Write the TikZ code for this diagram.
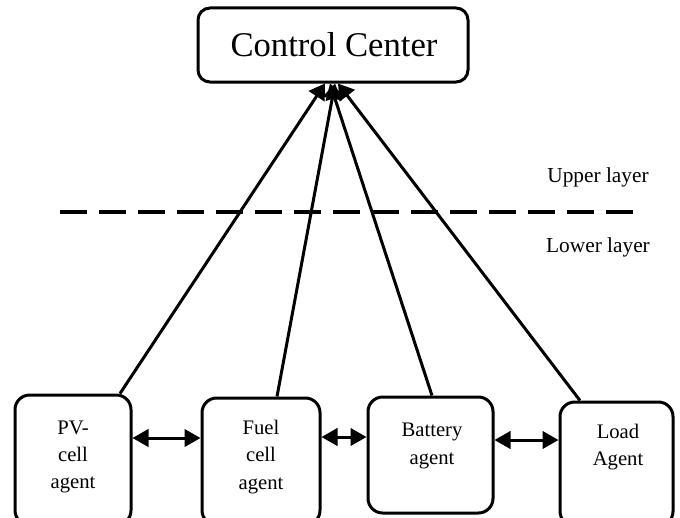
\documentclass[tikz,border=0pt]{standalone}
\usepackage{fontspec}
\setmainfont{Liberation Serif}
\usetikzlibrary{arrows.meta,calc}
\begin{document}
\begin{tikzpicture}[x=0.75pt,y=-0.75pt,
  agentbox/.style={draw,line width=2.25pt,rounded corners=11pt,inner sep=0pt},
  boxtext/.style={inner sep=0pt,align=center,font=\fontsize{15.5}{20.5}\selectfont},
  layertext/.style={inner sep=0pt,font=\fontsize{16}{19}\selectfont},
  conn/.style={line width=2.25pt,-{Triangle[length=11.5pt,width=14pt]}},
  biconn/.style={line width=2.25pt,{Triangle[length=12pt,width=13pt]}-{Triangle[length=12pt,width=13pt]}}]
\useasboundingbox (0,0) rectangle (680,517);
\clip (0,0) rectangle (680,517);
% control center
\node[agentbox,rounded corners=9pt,minimum width=202.5pt,minimum height=55.5pt] (cc) at (333,45) {};
\node[inner sep=0pt,font=\fontsize{26}{30}\selectfont] (cct) at (334,45) {Control Center};
% agents
\node[agentbox,minimum width=87pt,minimum height=97.5pt] (pv) at (73,460) {};
\node[agentbox,minimum width=88.5pt,minimum height=95.25pt] (fuel) at (261,461.5) {};
\node[agentbox,minimum width=93.75pt,minimum height=87pt] (bat) at (430.5,455) {};
\node[agentbox,minimum width=84.75pt,minimum height=93pt] (load) at (616.5,464) {};
\node[boxtext] (pvt) at (73,457) {PV-\\cell\\agent};
\node[boxtext] (fuelt) at (261,457) {Fuel\\cell\\agent};
\node[boxtext] (batt) at (432,446) {Battery\\agent};
\node[boxtext] (loadt) at (618,447) {Load\\Agent};
% layer labels
\node[layertext] (up) at (598,177) {Upper layer};
\node[layertext] (low) at (598,247) {Lower layer};
% dashed separator
\coordinate (dl) at (60,212);
\coordinate (dr) at (633,212);
\draw[line width=2.6pt,dash pattern=on 20pt off 9.25pt] (dl) -- (dr);
% connectors to control center
\draw[conn] ([xshift=35.25pt]pv.north) -- ([xshift=-6pt]cc.south);
\draw[conn] ([xshift=12pt]fuel.north) -- ([xshift=1.5pt]cc.south);
\draw[conn] ([xshift=1.1pt]bat.north) -- ([xshift=-2.25pt]cc.south);
\draw[conn] ([xshift=-27.4pt]load.north) -- ([xshift=3.75pt]cc.south);
% horizontal double arrows
\coordinate (h1) at (0,438);
\coordinate (h2) at (0,437);
\coordinate (h3) at (0,440);
\draw[biconn] (pv.east |- h1) -- (fuel.west |- h1);
\draw[biconn] (fuel.east |- h2) -- (bat.west |- h2);
\draw[biconn] (bat.east |- h3) -- (load.west |- h3);
\end{tikzpicture}
\end{document}
